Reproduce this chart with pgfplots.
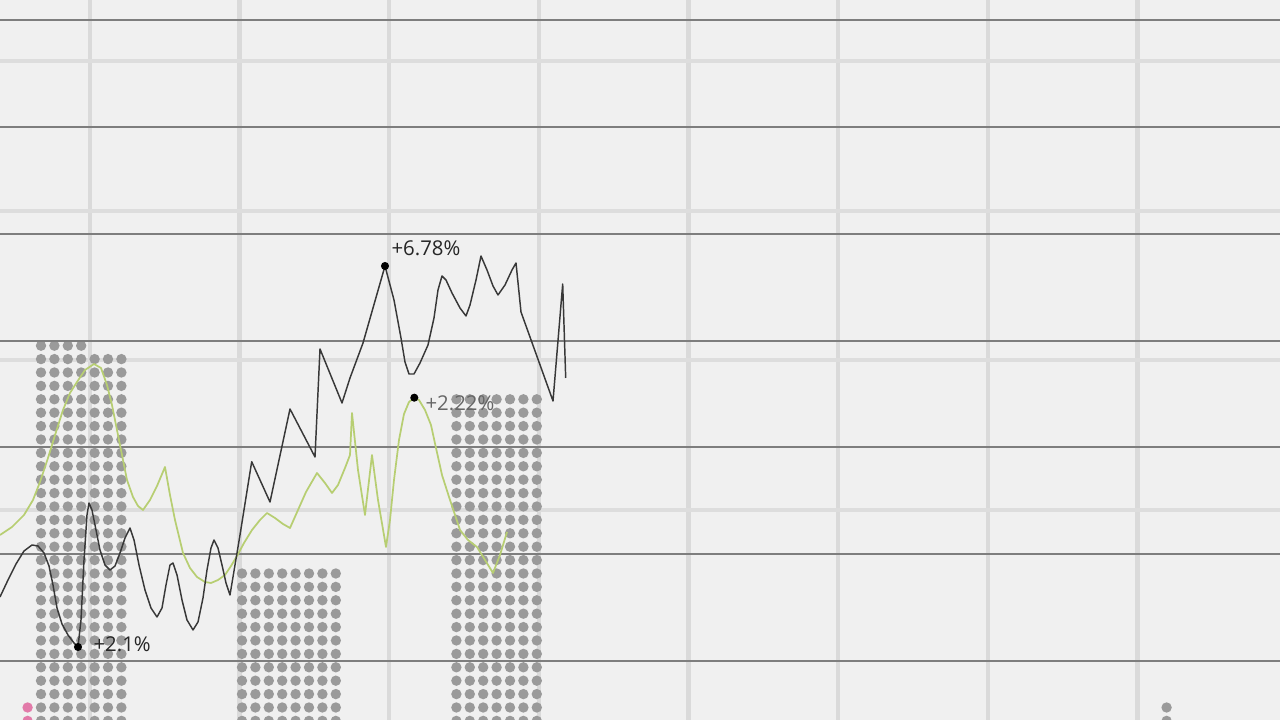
\documentclass[border=0pt]{standalone}
\usepackage{pgfplots}
\pgfplotsset{compat=1.18}
\usepackage{fontspec}
\setmainfont{Open Sans}

\definecolor{bg}{HTML}{F0F0F0}
\definecolor{vgrid}{HTML}{DADADA}
\definecolor{hlight}{HTML}{DDDDDD}
\definecolor{hdark}{HTML}{7E7E7E}
\definecolor{dotgray}{HTML}{9A9A9A}
\definecolor{dotpink}{HTML}{E27AA9}
\definecolor{lineblack}{HTML}{383838}
\definecolor{linegreen}{HTML}{B7CE72}

\tikzset{
  dots/.style={line width=3.9pt, line cap=round,
               dash pattern=on 0pt off 5.025pt},
  lbl/.style={anchor=base west, inner sep=0pt,
              font=\fontsize{7.65}{9}\selectfont},
}

\begin{document}
\begin{tikzpicture}
  % one axis unit = one pixel of the 1280x720 picture, y pointing up
  \begin{axis}[
      width=480pt, height=270pt, scale only axis,
      xmin=0, xmax=1280, ymin=0, ymax=720,
      hide axis,
      unbounded coords=jump,
    ]

    % background and grid
    \fill[bg] (axis cs:0,0) rectangle (axis cs:1280,720);
    \pgfplotsinvokeforeach{90,239.5,389,539,688.5,838,988,1137.5}{
      \draw[vgrid, line width=1.7pt] (axis cs:#1,0) -- (axis cs:#1,720);
    }
    \pgfplotsinvokeforeach{659,509,360,210}{
      \draw[hlight, line width=1.8pt] (axis cs:0,#1) -- (axis cs:1280,#1);
    }

    % dot-matrix bars (one column of dots per segment)
    \addplot[dotgray, dots] coordinates {
        (41,-0.9) (41,376) (41,nan)
        (54.4,-0.9) (54.4,376) (54.4,nan)
        (67.8,-0.9) (67.8,376) (67.8,nan)
        (81.2,-0.9) (81.2,376) (81.2,nan)
        (94.6,-0.9) (94.6,362.5) (94.6,nan)
        (108,-0.9) (108,362.5) (108,nan)
        (121.4,-0.9) (121.4,362.5)
      };
    \addplot[dotgray, dots] coordinates {
        (242,-0.9) (242,148) (242,nan)
        (255.4,-0.9) (255.4,148) (255.4,nan)
        (268.8,-0.9) (268.8,148) (268.8,nan)
        (282.2,-0.9) (282.2,148) (282.2,nan)
        (295.6,-0.9) (295.6,148) (295.6,nan)
        (309,-0.9) (309,148) (309,nan)
        (322.4,-0.9) (322.4,148) (322.4,nan)
        (335.8,-0.9) (335.8,148)
      };
    \addplot[dotgray, dots] coordinates {
        (456.4,-0.9) (456.4,322) (456.4,nan)
        (469.8,-0.9) (469.8,322) (469.8,nan)
        (483.2,-0.9) (483.2,322) (483.2,nan)
        (496.6,-0.9) (496.6,322) (496.6,nan)
        (510,-0.9) (510,322) (510,nan)
        (523.4,-0.9) (523.4,322) (523.4,nan)
        (536.8,-0.9) (536.8,322)
      };
    \addplot[dotpink, dots] coordinates {(27.6,-0.9) (27.6,14)};
    \addplot[dotgray, dots] coordinates {(1166.6,-0.9) (1166.6,14)};

    % dark horizontal rules
    \pgfplotsinvokeforeach{699.5,592.7,486,379.3,272.7,166,59.3}{
      \draw[hdark, line width=0.75pt] (axis cs:0,#1) -- (axis cs:1280,#1);
    }

    % green series
    \addplot[linegreen, line width=0.65pt, line join=round] coordinates {
        (0,185) (12,193) (24,205) (33,220) (40,238) (48,262) (56,288) (63,310)
        (70,327) (77,338) (85,350) (94,356) (101,352) (107,335) (112,315)
        (117,290) (122,265) (127,240) (133,223) (138,214) (143,210) (150,220)
        (157,234) (165,253) (170,225) (175,200) (183,167) (190,152) (197,143)
        (205,138) (211,137) (218,140) (225,145) (231,154) (237,164) (244,177)
        (252,190) (260,200) (267,207) (275,202) (283,196) (290,192) (298,210)
        (306,228) (317,247) (325,237) (332,227) (338,235) (345,252) (350,265)
        (352,307) (358,250) (365,205) (372,265) (378,220) (386,173) (390,200)
        (394,240) (399,280) (404,306) (409,318) (414.3,322.3) (419,320)
        (425,310) (431,295) (436,272) (442,245) (450,220) (460,190) (468,180)
        (477,173) (485,160) (493,147) (500,165) (507,188)
      };

    % dark series
    \addplot[lineblack, line width=0.55pt, line join=round] coordinates {
        (0,123) (8,140) (16,156) (24,169) (32,175) (38,174) (44,167) (49,154)
        (53,135) (57,112) (62,96) (68,85) (74,77) (78,73) (81,100) (84,160)
        (87,205) (89,217) (92,210) (96,190) (100,170) (105,155) (110,150)
        (115,154) (120,167) (125,182) (130,192) (134,180) (139,155) (145,130)
        (151,112) (157,103) (162,112) (166,135) (170,155) (173,157) (177,145)
        (182,120) (187,100) (193,90) (198,98) (203,122) (207,150) (211,172)
        (214,180) (218,172) (222,155) (226,137) (230,125) (240,185)
        (251.7,258.3) (270,218) (290,311) (315,263) (320,371) (342,317)
        (350,342) (363,377) (385,454) (394,420) (401,382) (405,358) (409,346)
        (414,346) (420,357) (428,375) (434,402) (438,430) (442,444) (446,440)
        (452,427) (460,412) (466,404) (470,415) (476,440) (481,464) (487,450)
        (493,434) (498,425) (505,435) (512,450) (516,457) (521,408) (553,319)
        (562.7,436) (565.7,342)
      };

    % highlighted points
    \addplot[only marks, mark=*, mark size=1.3pt, black] coordinates {
        (385,454) (414.3,322.3) (78,73)
      };

    \node[lbl, text=black!85] at (axis cs:391,464) {+6.78\%};
    \node[lbl, text=black!60] at (axis cs:425,309) {+2.22\%};
    \node[lbl, text=black!85] at (axis cs:93,68.5) {+2.1\%};
  \end{axis}
\end{tikzpicture}
\end{document}
